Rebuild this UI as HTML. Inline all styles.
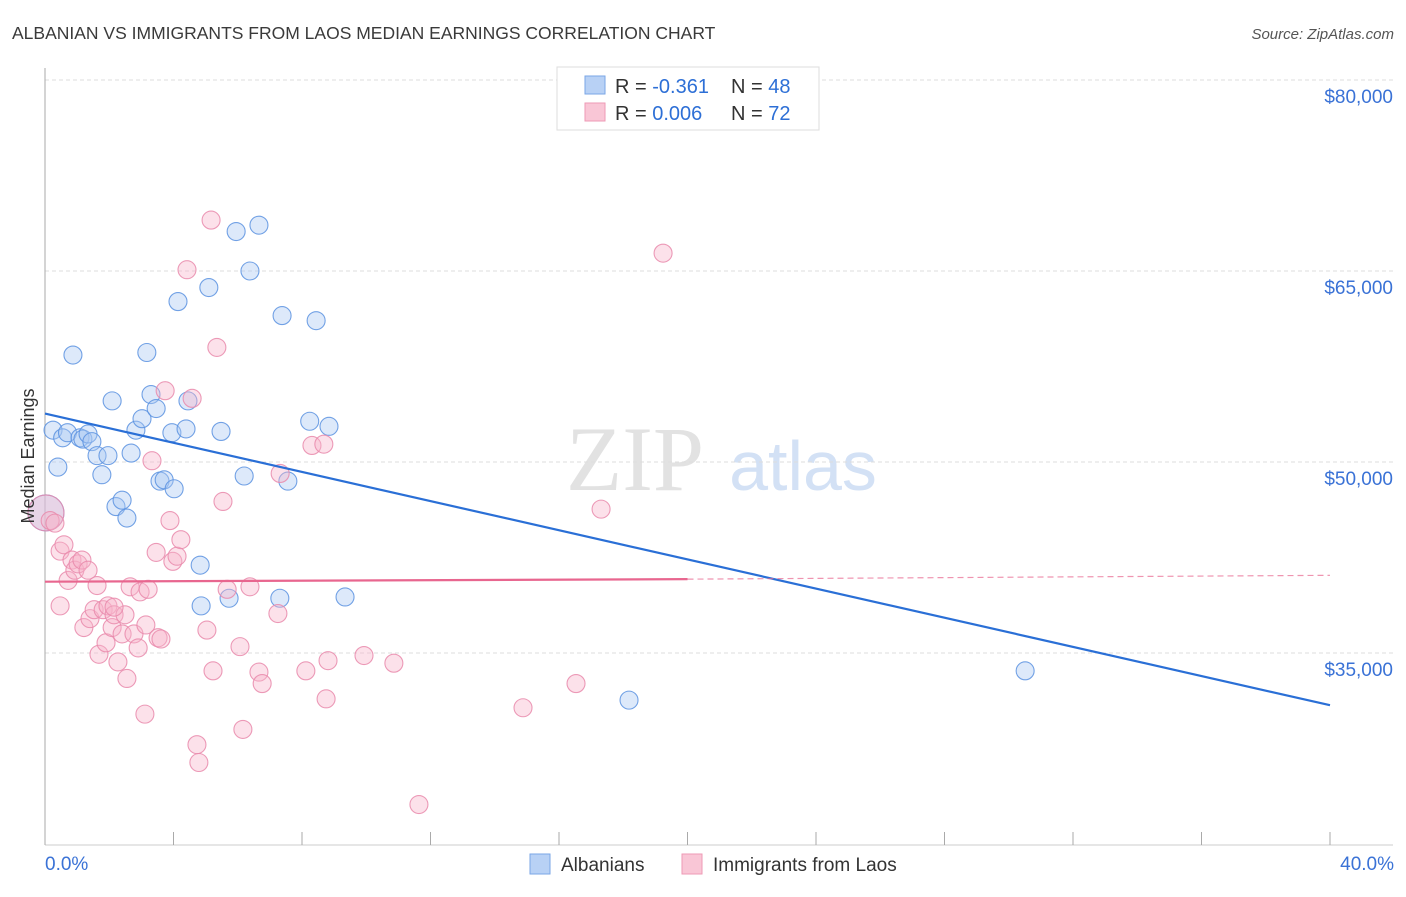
<!DOCTYPE html>
<html><head><meta charset="utf-8"><style>
body{margin:0;background:#fff;font-family:"Liberation Sans",sans-serif}
</style></head><body>
<svg id="chart" width="1406" height="892" xmlns="http://www.w3.org/2000/svg" font-family="Liberation Sans, sans-serif">
<text x="12" y="39" font-size="17.5" fill="#3a3a3a">ALBANIAN VS IMMIGRANTS FROM LAOS MEDIAN EARNINGS CORRELATION CHART</text>
<text x="1394" y="39" font-size="15" fill="#555" text-anchor="end" font-style="italic">Source: ZipAtlas.com</text>
<g>
<text x="635" y="490" font-size="92" fill="#e2e2e2" font-family="Liberation Serif, serif" text-anchor="middle">ZIP</text>
<text x="803" y="490" font-size="70" fill="#d3e1f5" text-anchor="middle">atlas</text>
</g>
<g id="grid"></g>
<g id="axes"></g>
<g id="pts"></g>
<g id="trends"></g>
<g>
<rect x="557" y="67" width="262" height="63" fill="#fff" stroke="#ddd"/>
<rect x="585" y="76" width="20" height="18" fill="#b8d1f5" stroke="#7aa6e6"/>
<rect x="585" y="103" width="20" height="18" fill="#f9c6d6" stroke="#ee9ab5"/>
<text x="615" y="93" font-size="20" fill="#333">R = <tspan fill="#2d6fd6">-0.361</tspan></text>
<text x="731" y="93" font-size="20" fill="#333">N = <tspan fill="#2d6fd6">48</tspan></text>
<text x="615" y="120" font-size="20" fill="#333">R = <tspan fill="#2d6fd6">0.006</tspan></text>
<text x="731" y="120" font-size="20" fill="#333">N = <tspan fill="#2d6fd6">72</tspan></text>
</g>
<g>
<rect x="530" y="854" width="20" height="20" fill="#b8d1f5" stroke="#7aa6e6"/>
<text x="561" y="871" font-size="19" fill="#333">Albanians</text>
<rect x="682" y="854" width="20" height="20" fill="#f9c6d6" stroke="#ee9ab5"/>
<text x="713" y="871" font-size="19" fill="#333">Immigrants from Laos</text>
</g>
<text transform="translate(34,456) rotate(-90)" font-size="18" fill="#333" text-anchor="middle">Median Earnings</text>
</svg>
<script>
const yTicks=[80000,65000,50000,35000];
const yTickLabels=["$80,000","$65,000","$50,000","$35,000"];
const xTickLabels=["0.0%","40.0%"];
const blueX=[0.25,0.4,0.55,0.7,0.87,1.09,1.18,1.34,1.46,1.62,1.77,1.96,2.09,2.21,2.4,2.55,2.68,2.83,3.02,3.17,3.3,3.46,3.58,3.71,3.95,4.02,4.14,4.39,4.45,4.83,4.86,5.1,5.48,5.73,5.95,6.2,6.38,6.66,7.31,7.38,7.56,8.24,8.44,8.84,9.34,18.18,30.51,0.03];
const blueY=[52.5,49.6,51.9,52.3,58.4,51.9,51.8,52.2,51.6,50.5,49.0,50.5,54.8,46.5,47.0,45.6,50.7,52.5,53.4,58.6,55.3,54.2,48.5,48.6,52.3,47.9,62.6,52.6,54.8,41.9,38.7,63.7,52.4,39.3,68.1,48.9,65.0,68.6,39.3,61.5,48.5,53.2,61.1,52.8,39.4,31.3,33.6,46.0];
const pinkX=[0.03,0.16,0.31,0.47,0.59,0.72,0.84,0.93,1.03,1.15,1.21,1.34,1.4,1.53,1.62,1.68,1.81,1.9,1.96,2.09,2.15,2.27,2.4,2.49,2.55,2.65,2.77,2.9,2.96,3.11,3.14,3.21,3.33,3.46,3.52,3.61,3.74,3.89,3.98,4.11,4.23,4.42,4.58,4.73,4.79,5.04,5.17,5.23,5.35,5.54,5.67,6.07,6.16,6.38,6.66,6.76,7.25,7.32,8.12,8.31,8.68,8.75,8.81,9.93,10.86,11.64,14.88,16.53,17.31,19.24,2.15,0.47];
const pinkY=[46.0,45.4,45.2,43.0,43.5,40.7,42.3,41.5,42.0,42.3,37.0,41.5,37.7,38.4,40.3,34.9,38.4,35.8,38.7,37.0,38.0,34.3,36.5,38.0,33.0,40.2,36.5,35.4,39.8,30.2,37.2,40.0,50.1,42.9,36.2,36.1,55.6,45.4,42.2,42.6,43.9,65.1,55.0,27.8,26.4,36.8,69.0,33.6,59.0,46.9,40.0,35.5,29.0,40.2,33.5,32.6,38.1,49.1,33.6,51.3,51.4,31.4,34.4,34.8,34.2,23.1,30.7,32.6,46.3,66.4,38.6,38.7];
const blueTrend=[[0,53.8],[40,30.9]];
const pinkTrend=[[0,40.6],[20,40.8],[40,41.1]];
const NS="http://www.w3.org/2000/svg";
const X0=45,X1=1330;
function xs(v){return X0+(v/40)*(X1-X0);}
function ys(k){return 80+(80-k)*(191/15);}
function mk(t,a,p){const e=document.createElementNS(NS,t);for(const k in a)e.setAttribute(k,a[k]);p.appendChild(e);return e;}
const grid=document.getElementById('grid'),axes=document.getElementById('axes'),pts=document.getElementById('pts'),tr=document.getElementById('trends');
yTicks.forEach((v,i)=>{
 const y=ys(v/1000);
 const l=mk('line',{x1:X0,x2:1393,y1:y,y2:y,stroke:'#ddd','stroke-dasharray':'4,3'},grid);
 
 
 const t=mk('text',{x:1393,y:y+23,'font-size':19,fill:'#3a72d6','text-anchor':'end'},grid);
 t.textContent=yTickLabels[i];
 
 
});
const ax=mk('line',{x1:X0,x2:X0,y1:68,y2:845,stroke:'#aaa'},axes);


const bx=mk('line',{x1:X0,x2:1393,y1:845,y2:845,stroke:'#ccc'},axes);


for(let i=0;i<=10;i++){
 const x=xs(i*4);
 const t=mk('line',{x1:x,x2:x,y1:832,y2:845,stroke:'#aaa'},axes);
 
 
}
const xl0=mk('text',{x:45,y:870,'font-size':19,fill:'#3a72d6'},axes);xl0.textContent=xTickLabels[0];


const xl1=mk('text',{x:1394,y:870,'font-size':19,fill:'#3a72d6','text-anchor':'end'},axes);xl1.textContent=xTickLabels[1];


function draw(X,Y,fill,stroke,name){
 X.forEach((v,i)=>{
  const big=(i===X.length-1&&name==='albanian-point')||(i===0&&name==='laos-point');
  const c=mk('circle',{cx:xs(v),cy:ys(Y[i]),r:big?18:9,fill:fill,'fill-opacity':0.4,stroke:stroke,'stroke-width':1.1,'stroke-opacity':0.85},pts);
  
  
 });
}
draw(blueX,blueY,'#a9c8f2','#5b92e0','albanian-point');
draw(pinkX,pinkY,'#f7b5cb','#e98aab','laos-point');
const bl=mk('line',{x1:xs(blueTrend[0][0]),y1:ys(blueTrend[0][1]),x2:xs(blueTrend[1][0]),y2:ys(blueTrend[1][1]),stroke:'#2a6fd6','stroke-width':2.2},tr);


const pl=mk('line',{x1:xs(pinkTrend[0][0]),y1:ys(pinkTrend[0][1]),x2:xs(pinkTrend[1][0]),y2:ys(pinkTrend[1][1]),stroke:'#e8668f','stroke-width':2.2},tr);


const pd=mk('line',{x1:xs(pinkTrend[1][0]),y1:ys(pinkTrend[1][1]),x2:xs(pinkTrend[2][0]),y2:ys(pinkTrend[2][1]),stroke:'#e8668f','stroke-width':1.2,'stroke-dasharray':'6,4','stroke-opacity':0.7},tr);


</script>
</body></html>
